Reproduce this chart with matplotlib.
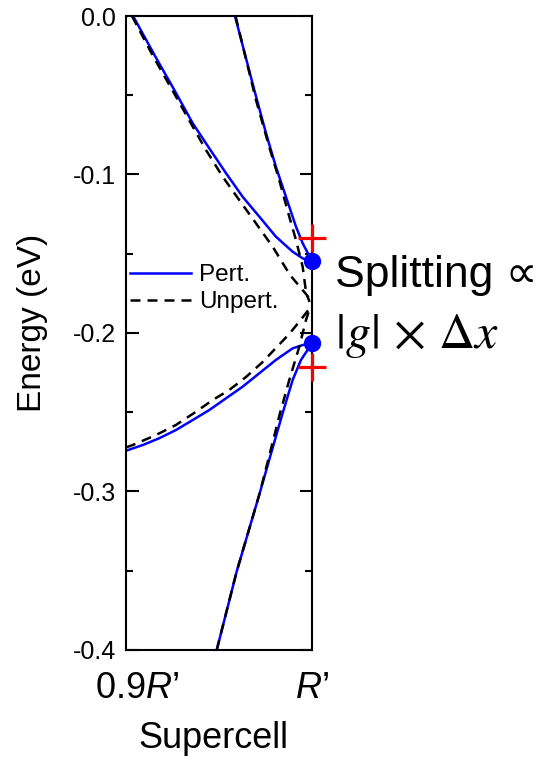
import matplotlib
matplotlib.use("Agg")
import matplotlib.pyplot as plt
from matplotlib.transforms import ScaledTranslation

plt.rcParams['font.family'] = ['Liberation Sans', 'DejaVu Sans']
plt.rcParams['mathtext.fontset'] = 'custom'
plt.rcParams['mathtext.rm'] = 'Liberation Sans'
plt.rcParams['mathtext.it'] = 'Liberation Sans:italic'

# band energies (eV) vs supercell size, in units of R'
pert_a_x = [0.9038, 0.9156, 0.9260, 0.9359, 0.9448, 0.9538, 0.9627, 0.9717, 0.9806, 0.9896, 0.9950, 1.0]
pert_a_e = [0.0, -0.0252, -0.0467, -0.0677, -0.0835, -0.0992, -0.1140, -0.1266, -0.1392, -0.1487, -0.1529, -0.1546]
pert_b_x = [0.9586, 0.9690, 0.9753, 0.9806, 0.9860, 0.9914, 0.9950, 1.0]
pert_b_e = [0.0, -0.0467, -0.0740, -0.0951, -0.1140, -0.1329, -0.1434, -0.1546]
pert_c_x = [0.9, 0.9090, 0.9179, 0.9269, 0.9359, 0.9448, 0.9538, 0.9627, 0.9717, 0.9806, 0.9896, 0.9950, 1.0]
pert_c_e = [-0.2743, -0.2707, -0.2664, -0.2612, -0.2549, -0.2486, -0.2412, -0.2339, -0.2254, -0.2170,
            -0.2097, -0.2076, -0.2065]
pert_d_x = [0.9488, 0.9595, 0.9720, 0.9770, 0.9842, 0.9896, 0.9941, 1.0]
pert_d_e = [-0.4, -0.3506, -0.3007, -0.2801, -0.2507, -0.2297, -0.2170, -0.2065]

unp_a_x = [0.9032, 0.9145, 0.9269, 0.9359, 0.9430, 0.9520, 0.9609, 0.9699, 0.9789, 0.9882, 0.9972, 0.9995]
unp_a_e = [0.0, -0.0252, -0.0509, -0.0698, -0.0845, -0.1014, -0.1161, -0.1308, -0.1456, -0.1634, -0.1760, -0.1804]
unp_b_x = [0.9589, 0.9699, 0.9770, 0.9824, 0.9878, 0.9914, 0.9950, 0.9968, 0.9987]
unp_b_e = [0.0, -0.0530, -0.0825, -0.1035, -0.1266, -0.1413, -0.1582, -0.1741, -0.1804]
unp_c_x = [0.9, 0.9036, 0.9161, 0.9269, 0.9376, 0.9466, 0.9555, 0.9645, 0.9735, 0.9806, 0.9878, 0.9935, 0.9989]
unp_c_e = [-0.2722, -0.2707, -0.2644, -0.2580, -0.2497, -0.2423, -0.2360, -0.2278, -0.2183, -0.2095,
           -0.2006, -0.1924, -0.1842]
unp_d_x = [0.9488, 0.9595, 0.9720, 0.9828, 0.9878, 0.9932, 0.9950, 0.9968, 0.9989]
unp_d_e = [-0.4, -0.3506, -0.3007, -0.2507, -0.2297, -0.2086, -0.2002, -0.1918, -0.1842]

# split states at R' and the unperturbed-limit markers
dot_e = [-0.1546, -0.2065]
plus_e = [-0.140, -0.2213]

xticks = [0.9, 1.0]
xticklabels = ['0.9$R$\u2019', '$R$\u2019']
yticks = [0.0, -0.1, -0.2, -0.3, -0.4]

fig = plt.figure(figsize=(5.54, 7.62), dpi=100)
ax = fig.add_axes([0.2274, 0.147, 0.3357, 0.832])

blue = '#0000ff'
lw = 1.8
dash = (4.0, 2.8)
ax.plot(pert_a_x, pert_a_e, color=blue, lw=lw, label='Pert.')
for xs, es in [(pert_b_x, pert_b_e), (pert_c_x, pert_c_e), (pert_d_x, pert_d_e)]:
    ax.plot(xs, es, color=blue, lw=lw)
ax.plot(unp_a_x, unp_a_e, color='k', lw=lw, dashes=dash, label='Unpert.')
for xs, es in [(unp_b_x, unp_b_e), (unp_c_x, unp_c_e), (unp_d_x, unp_d_e)]:
    ax.plot(xs, es, color='k', lw=lw, dashes=dash)

ax.plot([1.0] * len(dot_e), dot_e, 'o', color=blue, ms=11.5, clip_on=False, zorder=5)
ax.plot([1.0] * len(plus_e), plus_e, '+', color='#ff0000', ms=20, mew=2.3, clip_on=False, zorder=5)

ax.set_xlim(0.9, 1.0)
ax.set_ylim(-0.4, 0.0)
ax.set_yticks(yticks)
ax.set_yticklabels(['%.1f' % v for v in yticks])
ax.set_yticks([-0.05, -0.15, -0.25, -0.35], minor=True)
ax.set_xticks(xticks)
ax.set_xticklabels(xticklabels)

for s in ax.spines.values():
    s.set_linewidth(1.5)
ax.tick_params(axis='y', which='both', direction='in', left=True, right=True, width=1.5, labelsize=18, pad=7)
ax.tick_params(axis='y', which='major', length=9)
ax.tick_params(axis='y', which='minor', length=5)
ax.tick_params(axis='x', length=0, labelsize=26, pad=15)

# nudge the left x label off the corner
lab = ax.xaxis.get_major_ticks()[0].label1
lab.set_transform(lab.get_transform() + ScaledTranslation(0.115, 0, fig.dpi_scale_trans))

ax.set_ylabel('Energy (eV)', fontsize=24)
ax.yaxis.set_label_coords(-0.42, 0.516)
ax.set_xlabel('Supercell', fontsize=26)
ax.xaxis.set_label_coords(0.47, -0.112)

ax.legend(loc='center left', bbox_to_anchor=(0.0215, 0.570), frameon=False, fontsize=17.5,
          handlelength=2.5, handletextpad=0.33, labelspacing=0.2, borderpad=0, borderaxespad=0)

ax.text(1.124, 0.573, 'Splitting \u221d', transform=ax.transAxes, fontsize=32, va='baseline', ha='left')
ax.text(1.124, 0.476, r'$|g|\,\times\,\Delta x$', transform=ax.transAxes, fontsize=36,
        va='baseline', ha='left', math_fontfamily='stix')

fig.savefig('out.png', dpi=100)
